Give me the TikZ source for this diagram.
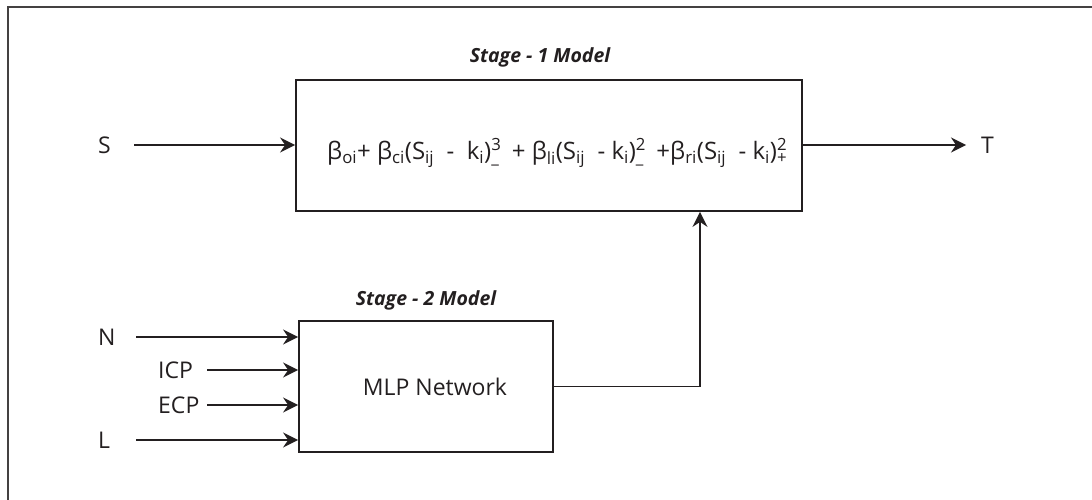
\documentclass[tikz,border=0pt]{standalone}
\usepackage{fontspec}
\setmainfont{Open Sans}
\usetikzlibrary{arrows.meta}
\definecolor{ink}{HTML}{231F20}
% subscript, and a stacked superscript/subscript pair
\newcommand\lo[1]{\textsubscript{#1}}
\newcommand\hilo[2]{\rlap{\textsuperscript{#1}}\textsubscript{#2}}

\begin{document}
\begin{tikzpicture}[x=1pt,y=-1pt,
  every node/.style={text=ink},
  lbl/.style={font=\fontsize{23}{27}\selectfont, inner sep=0pt},
  ttl/.style={font=\fontsize{19.5}{23}\selectfont\bfseries\itshape, inner sep=0pt},
  blk/.style={draw=ink, line width=1.8pt, inner sep=0pt},
  arr/.style={draw=ink, line width=1.8pt, -{Stealth[length=15pt,width=15pt,inset=5pt]}},
  frame/.style={draw=ink!85, line width=2pt}]
\useasboundingbox (0,0) rectangle (1092,500);
\draw[frame] (8,500) -- (8,7) -- (1092,7);

% stage 1
\node[blk, minimum width=506pt, minimum height=131pt] (m1) at (549,145.5) {};
\node[ttl] (t1) at (540,57) {Stage - 1 Model};
\node[lbl, anchor=base west, font=\fontsize{24}{28}\selectfont] (f) at (327,160)
  {β\lo{oi}+ β\lo{ci}(S\lo{ij} \ - \ k\lo{i})\hilo{3}{\_} \ + β\lo{li}(S\lo{ij} \ - k\lo{i})\hilo{2}{\_} \ +β\lo{ri}(S\lo{ij} \ - k\lo{i})\hilo{2}{+}};

% stage 2
\node[blk, minimum width=254pt, minimum height=131pt] (m2) at (426,386.5) {};
\node[ttl] (t2) at (426,300) {Stage - 2 Model};
\node[lbl] (mlp) at (435,387) {MLP Network};

% inputs and output
\node[lbl, anchor=west] (s) at (98,145) {S};
\node[lbl, anchor=west] (t) at (981,145) {T};
\node[lbl, anchor=west] (n) at (98,337) {N};
\node[lbl, anchor=west] (icp) at (158,370) {ICP};
\node[lbl, anchor=west] (ecp) at (158,405) {ECP};
\node[lbl, anchor=west] (l) at (98,440) {L};

\draw[arr] ([xshift=36pt]s.west) -- (s -| m1.west);
\draw[arr, shorten >=15pt] (t -| m1.east) -- (t.west);
\draw[arr] ([xshift=38pt]n.west) -- (n -| m2.west);
\draw[arr] ([xshift=49pt]icp.west) -- (icp -| m2.west);
\draw[arr] ([xshift=49pt]ecp.west) -- (ecp -| m2.west);
\draw[arr] ([xshift=38pt]l.west) -- (l -| m2.west);
\draw[arr] (m2.east) -| ([xshift=151pt]m1.south);
\end{tikzpicture}
\end{document}
